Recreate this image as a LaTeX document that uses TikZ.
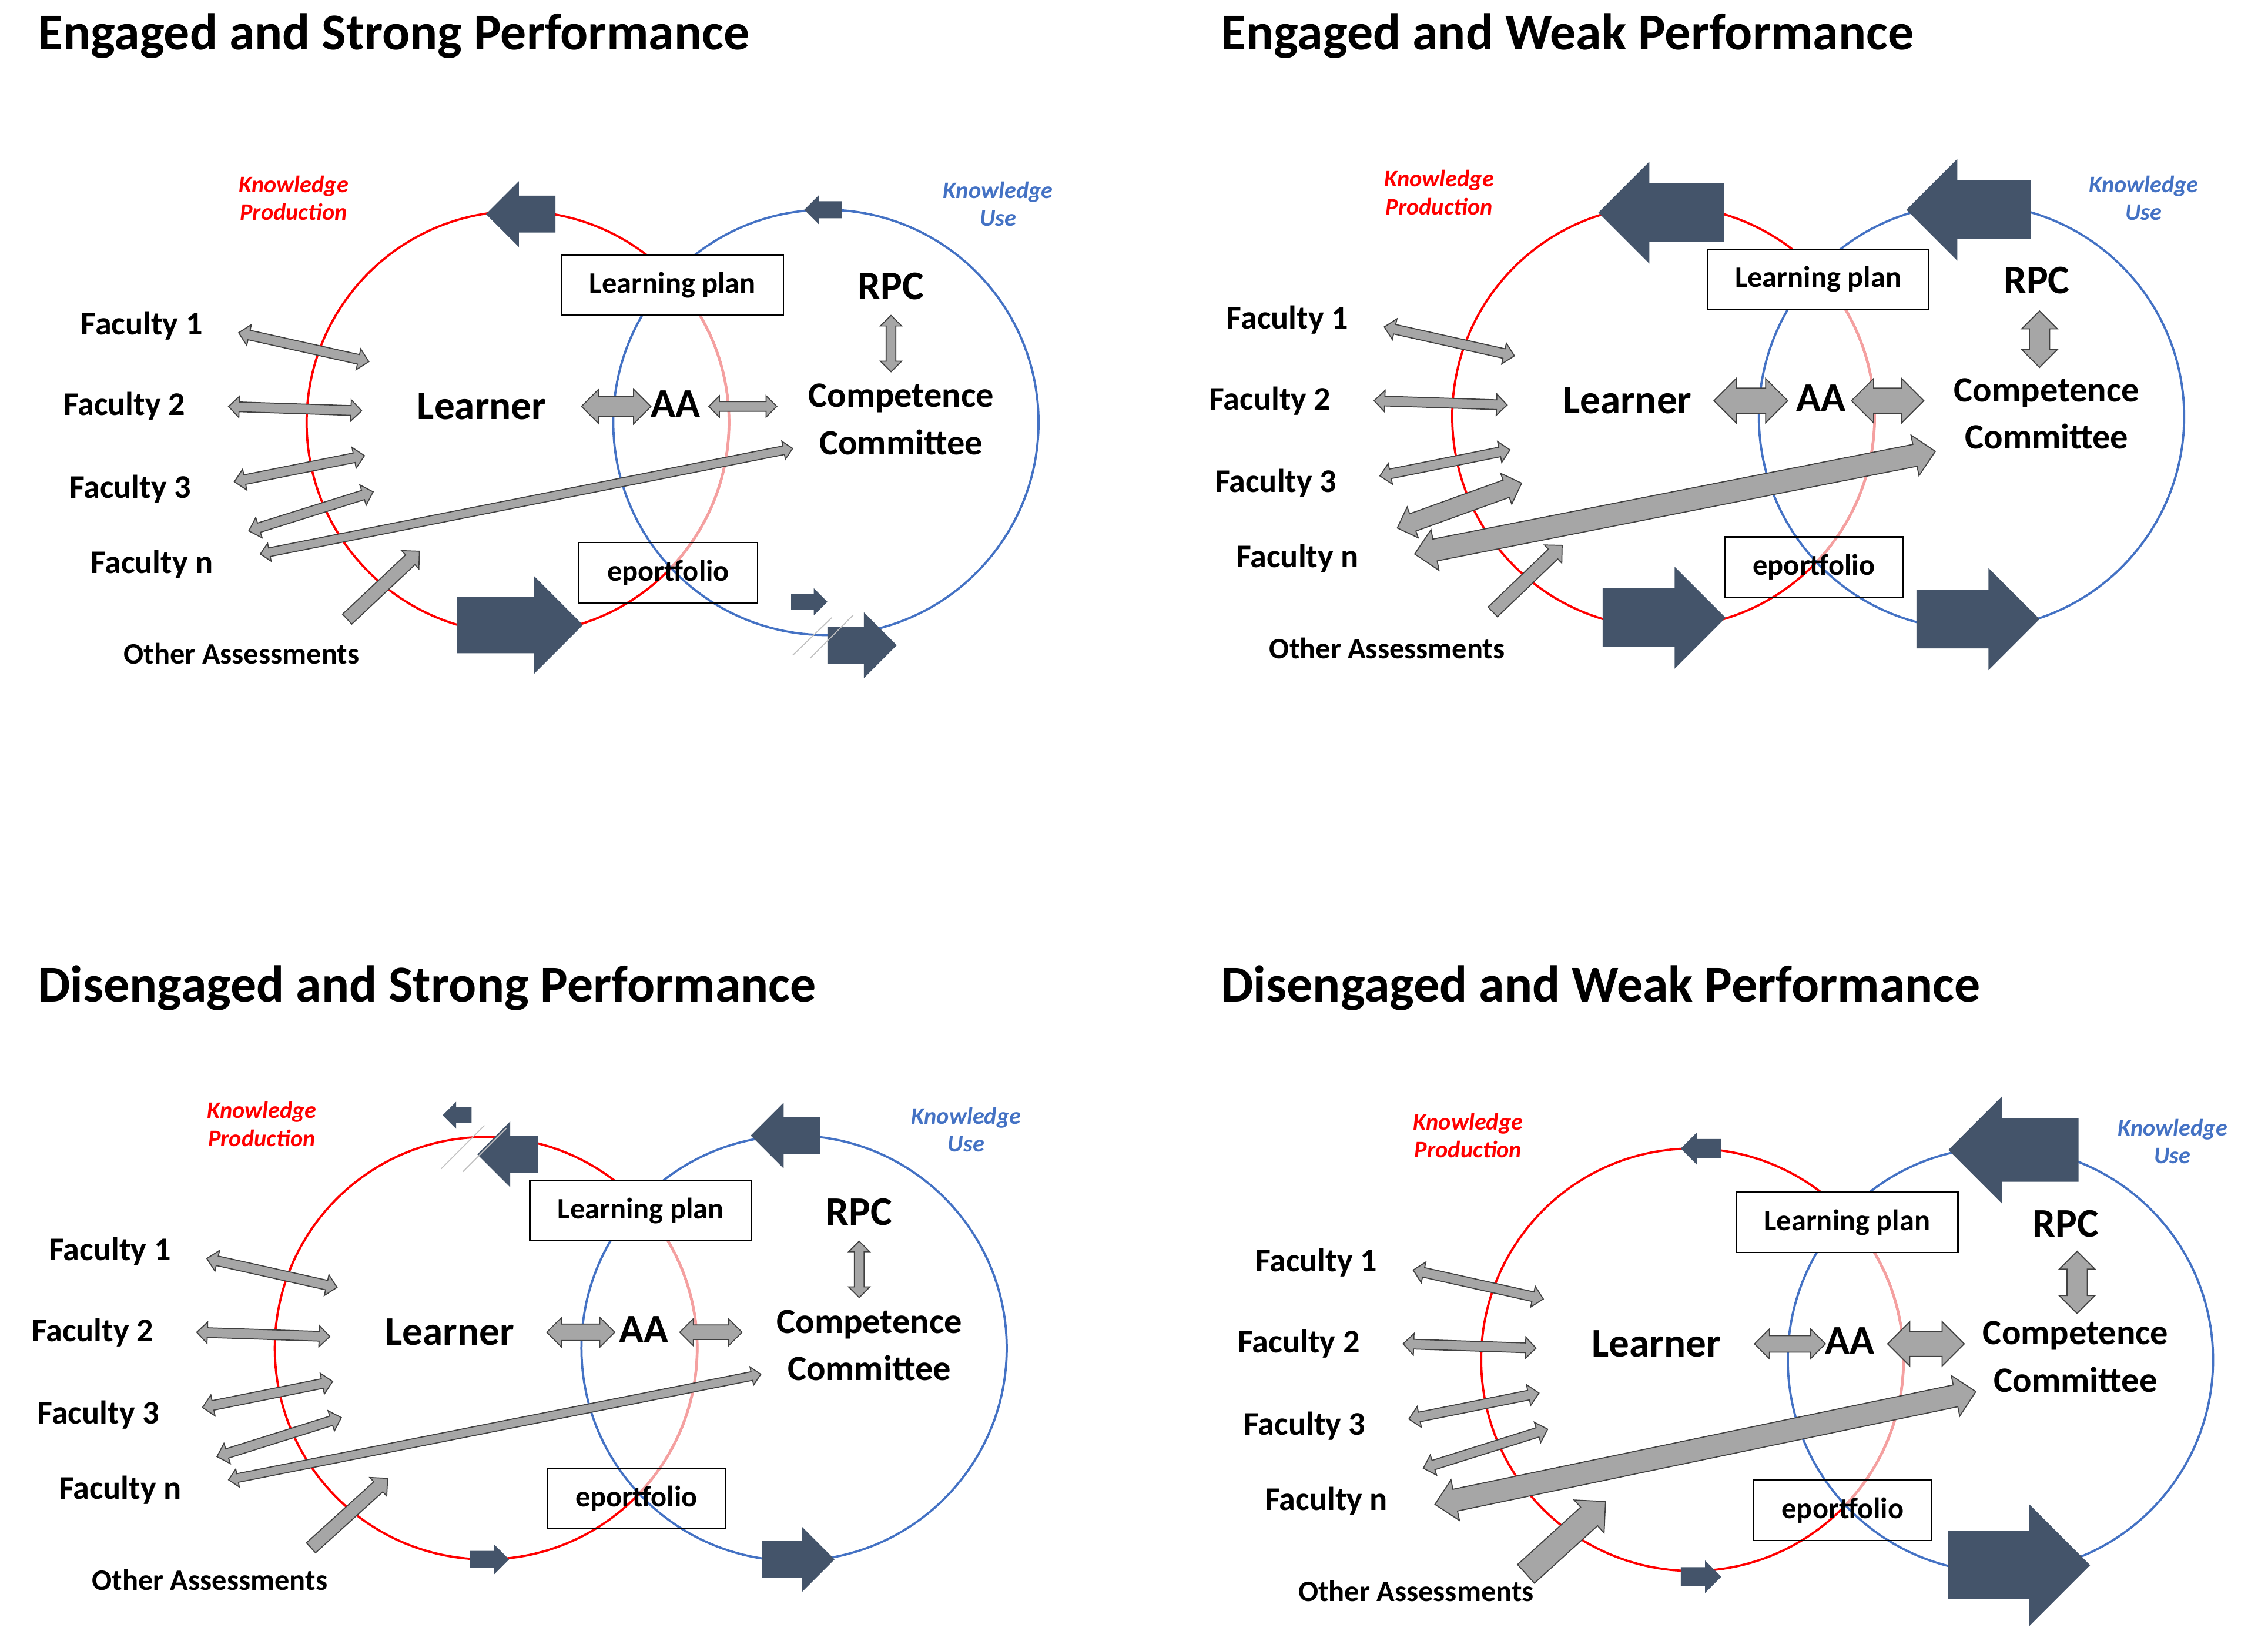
\documentclass[tikz,border=0pt]{standalone}
\usepackage{fontspec}
\setmainfont{Carlito}
\usetikzlibrary{calc,shapes.arrows}
\definecolor{dk}{HTML}{44546A}
\definecolor{gr}{HTML}{A6A6A6}
\definecolor{bl}{HTML}{4472C4}
\definecolor{pk}{HTML}{F4A0A0}
\tikzset{
 gbase/.style={fill=gr,draw=black!75,line width=0.6pt,outer sep=0},
 dbase/.style={fill=dk,draw=none,outer sep=0},
 lab/.style={font=\bfseries\fontsize{19.5}{21}\selectfont},
 big/.style={font=\bfseries\fontsize{24}{26}\selectfont},
 ttl/.style={font=\bfseries\fontsize{30.5}{34}\selectfont,anchor=west},
 kn/.style={font=\bfseries\itshape\fontsize{14}{16.5}\selectfont,align=center},
 box/.style={draw,line width=0.8pt,font=\bfseries\fontsize{17.5}{19}\selectfont,minimum height=1.25cm},
 slash/.style={draw=black!25,line width=0.6pt}
}
% #1 style, #2 start, #3 end, #4 total width (cm), #5 head extend (cm)
\newcommand\sarr[5]{\pgfmathsetmacro\shw{(#4-2*#5)/2}\path let \p1=($(#3)-(#2)$), \n1={atan2(\y1,\x1)}, \n2={veclen(\x1,\y1)} in
 node[#1,single arrow,minimum height=\n2,inner xsep=0pt,inner ysep=\shw cm,text height=0pt,text depth=0pt,single arrow head extend=#5cm,rotate=\n1,anchor=tail] at (#2) {};}
\newcommand\darr[5]{\pgfmathsetmacro\shw{(#4-2*#5)/2}\path let \p1=($(#3)-(#2)$), \n1={atan2(\y1,\x1)}, \n2={veclen(\x1,\y1)} in
 node[#1,double arrow,minimum height=\n2,inner xsep=0pt,inner ysep=\shw cm,text height=0pt,text depth=0pt,double arrow head extend=#5cm,rotate=\n1] at ($(#2)!0.5!(#3)$) {};}
\newcommand\panelbase[1]{%
 \coordinate (#1rc) at (358,292);
 \coordinate (#1bc) at (571,292);
 \draw[red,line width=1.3pt] (#1rc) circle[radius=4.38cm];
 \begin{scope}\clip (#1bc) circle[radius=4.41cm];
  \draw[pk,line width=1.6pt] (#1rc) circle[radius=4.38cm];
 \end{scope}
 \draw[bl,line width=1.3pt] (#1bc) circle[radius=4.41cm];
 \node[kn,red] (#1kp) at (203,137) {Knowledge\\Production};
 \node[kn,bl] (#1ku) at (690,141) {Knowledge\\Use};
 \node[box,fill=white,minimum width=4.6cm] (#1lp) at (465,197) {Learning plan};
 \node[box,minimum width=3.7cm] (#1ep) at (462,396) {eportfolio};
 \node[big] (#1rpc) at (616,198) {RPC};
 \node[align=center,font=\bfseries\fontsize{21}{28}\selectfont] (#1cc) at (623,290) {Competence\\Committee};
 \node[big] (#1le) at (333,281) {Learner};
 \node[big] (#1aa) at (467,279) {AA};
 \node[lab] (#1f1) at (98,225) {Faculty 1};
 \node[lab] (#1f2) at (86,281) {Faculty 2};
 \node[lab] (#1f3) at (90,338) {Faculty 3};
 \node[lab] (#1fn) at (105,390) {Faculty n};
 \node[font=\bfseries\fontsize{17.5}{19}\selectfont] (#1oa) at (167,452) {Other Assessments};
 \darr{gbase}{165,230}{255,250}{0.42}{0.12}
 \darr{gbase}{158,281}{250,284}{0.42}{0.12}
 \darr{gbase}{162,333}{252,315}{0.42}{0.12}
}
\begin{document}
\begin{tikzpicture}[x=0.03cm,y=-0.03cm]
\useasboundingbox (0,0) rectangle (1568,1141);
\node[ttl] (t1) at (22,25) {Engaged and Strong Performance};
\node[ttl] (t2) at (840,25) {Engaged and Weak Performance};
\node[ttl] (t3) at (22,683) {Disengaged and Strong Performance};
\node[ttl] (t4) at (840,683) {Disengaged and Weak Performance};
% TL
\begin{scope}
 \panelbase{a}
 \darr{gbase}{172,367}{258,340}{0.42}{0.12}
 \darr{gbase}{180,383}{548,310}{0.36}{0.1}
 \sarr{gbase}{240,428}{290,381}{0.5}{0.12}
 \darr{gbase}{402,281}{450,281}{0.7}{0.15}
 \darr{gbase}{490,281}{537,281}{0.42}{0.12}
 \darr{gbase}{616,218}{616,257}{0.42}{0.12}
 \sarr{dbase}{384,148}{336,148}{1.35}{0.3}
 \sarr{dbase}{316,432}{403,432}{2.0}{0.42}
 \sarr{dbase}{582,145}{556,145}{0.6}{0.13}
 \sarr{dbase}{572,446}{620,446}{1.35}{0.3}
 \sarr{dbase}{547,416}{572,416}{0.55}{0.12}
 \draw[slash] (548,453)--(575,427) (560,455)--(590,425);
\end{scope}
% TR
\begin{scope}[shift={(792,-4)}]
 \panelbase{b}
 \darr{gbase}{174,369}{260,338}{0.66}{0.15}
 \darr{gbase}{186,387}{546,316}{0.84}{0.2}
 \sarr{gbase}{240,427}{288,381}{0.5}{0.12}
 \darr{gbase}{393,281}{444,281}{0.9}{0.2}
 \darr{gbase}{488,281}{538,281}{0.9}{0.2}
 \darr{gbase}{618,219}{618,258}{0.72}{0.16}
 \sarr{dbase}{400,151}{313,151}{2.1}{0.45}
 \sarr{dbase}{316,431}{401,431}{2.1}{0.45}
 \sarr{dbase}{612,149}{526,149}{2.1}{0.45}
 \sarr{dbase}{533,432}{618,432}{2.1}{0.45}
\end{scope}
% BL
\begin{scope}[shift={(-22,640)}]
 \panelbase{c}
 \darr{gbase}{172,367}{258,340}{0.42}{0.12}
 \darr{gbase}{180,383}{548,310}{0.36}{0.1}
 \sarr{gbase}{237,430}{290,382}{0.5}{0.12}
 \darr{gbase}{400,281}{447,281}{0.6}{0.14}
 \darr{gbase}{492,281}{535,281}{0.54}{0.13}
 \darr{gbase}{616,218}{616,257}{0.42}{0.12}
 \sarr{dbase}{348,131}{328,131}{0.55}{0.12}
 \sarr{dbase}{394,158}{352,158}{1.35}{0.3}
 \draw[slash] (327,168)--(357,138) (342,170)--(372,140);
 \sarr{dbase}{589,145}{541,145}{1.35}{0.3}
 \sarr{dbase}{347,438}{374,438}{0.6}{0.13}
 \sarr{dbase}{549,438}{599,438}{1.35}{0.3}
\end{scope}
% BR
\begin{scope}[shift={(812,648)}]
 \panelbase{d}
 \darr{gbase}{172,367}{258,340}{0.42}{0.12}
 \darr{gbase}{180,392}{554,314}{0.84}{0.2}
 \sarr{gbase}{243,440}{298,390}{0.9}{0.2}
 \darr{gbase}{401,281}{450,281}{0.6}{0.14}
 \darr{gbase}{493,281}{546,281}{0.9}{0.2}
 \darr{gbase}{624,217}{624,260}{0.72}{0.16}
 \sarr{dbase}{378,146}{350,146}{0.66}{0.14}
 \sarr{dbase}{625,147}{535,147}{2.2}{0.45}
 \sarr{dbase}{350,442}{378,442}{0.66}{0.14}
 \sarr{dbase}{535,434}{633,434}{2.5}{0.55}
\end{scope}
\end{tikzpicture}
\end{document}
